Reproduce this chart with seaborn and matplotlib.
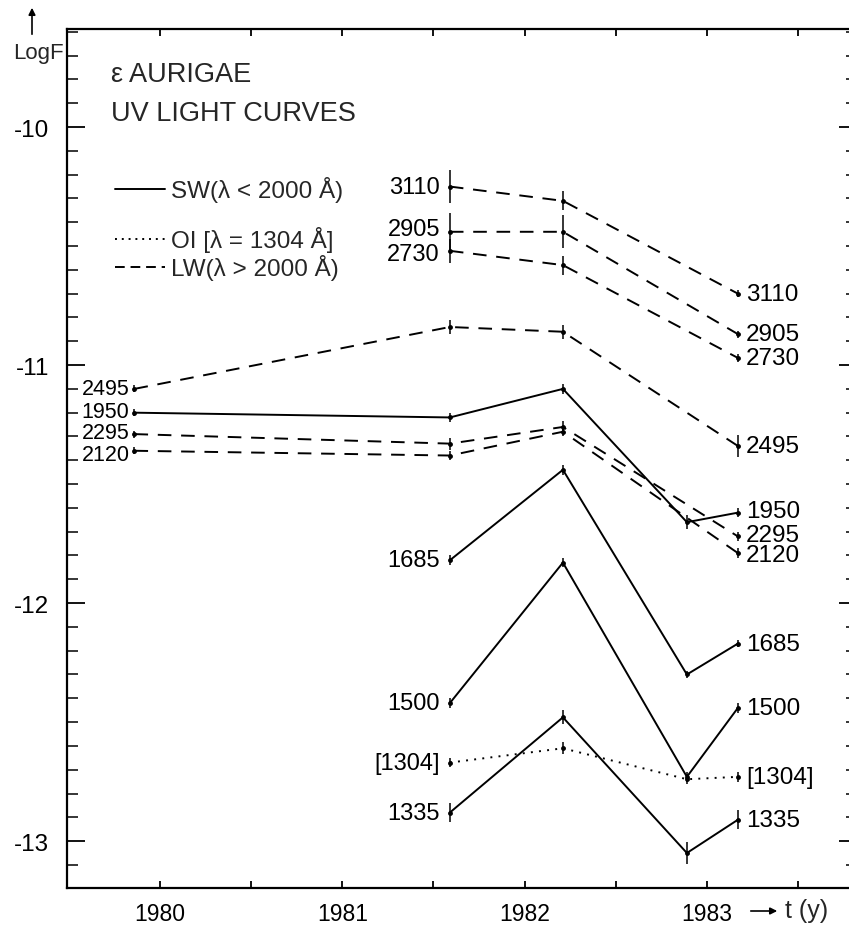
import numpy as np
import pandas as pd
import matplotlib
matplotlib.use("Agg")
import matplotlib.pyplot as plt
import seaborn as sns
from matplotlib.lines import Line2D

# ---------------- data ----------------
t_3110 = [1981.59, 1982.21, 1983.17]
f_3110 = [-10.25, -10.31, -10.70]
e_3110 = [0.07, 0.04, 0.015]

t_2905 = [1981.59, 1982.21, 1983.17]
f_2905 = [-10.44, -10.44, -10.87]
e_2905 = [0.08, 0.07, 0.015]

t_2730 = [1981.59, 1982.21, 1983.17]
f_2730 = [-10.52, -10.58, -10.97]
e_2730 = [0.05, 0.04, 0.015]

t_2495 = [1979.86, 1981.59, 1982.21, 1983.17]
f_2495 = [-11.10, -10.84, -10.86, -11.34]
e_2495 = [0.015, 0.03, 0.03, 0.045]

t_2295 = [1979.86, 1981.59, 1982.21, 1983.17]
f_2295 = [-11.29, -11.33, -11.26, -11.72]
e_2295 = [0.015, 0.025, 0.025, 0.02]

t_2120 = [1979.86, 1981.59, 1982.21, 1983.17]
f_2120 = [-11.36, -11.38, -11.28, -11.79]
e_2120 = [0.015, 0.02, 0.02, 0.02]

t_1950 = [1979.86, 1981.59, 1982.21, 1982.89, 1983.17]
f_1950 = [-11.20, -11.22, -11.10, -11.66, -11.62]
e_1950 = [0.015, 0.02, 0.02, 0.03, 0.02]

t_1685 = [1981.59, 1982.21, 1982.89, 1983.17]
f_1685 = [-11.82, -11.44, -12.30, -12.17]
e_1685 = [0.02, 0.02, 0.015, 0.015]

t_1500 = [1981.59, 1982.21, 1982.89, 1983.17]
f_1500 = [-12.42, -11.83, -12.73, -12.44]
e_1500 = [0.02, 0.02, 0.02, 0.02]

t_1304 = [1981.59, 1982.21, 1982.89, 1983.17]
f_1304 = [-12.67, -12.61, -12.74, -12.73]
e_1304 = [0.02, 0.025, 0.02, 0.02]

t_1335 = [1981.59, 1982.21, 1982.89, 1983.17]
f_1335 = [-12.88, -12.48, -13.05, -12.91]
e_1335 = [0.04, 0.03, 0.045, 0.04]

series_names = ["3110", "2905", "2730", "2495", "2295", "2120",
                "1950", "1685", "1500", "1304", "1335"]
series_kind = ["LW", "LW", "LW", "LW", "LW", "LW",
               "SW", "SW", "SW", "OI", "SW"]
series_t = [t_3110, t_2905, t_2730, t_2495, t_2295, t_2120,
            t_1950, t_1685, t_1500, t_1304, t_1335]
series_f = [f_3110, f_2905, f_2730, f_2495, f_2295, f_2120,
            f_1950, f_1685, f_1500, f_1304, f_1335]
series_e = [e_3110, e_2905, e_2730, e_2495, e_2295, e_2120,
            e_1950, e_1685, e_1500, e_1304, e_1335]

x_ticks = [1980, 1981, 1982, 1983]
y_ticks = [-10, -11, -12, -13]
y_ticklabels = ["-10", "-11", "-12", "-13"]

rows = []
for name, kind, ts, fs, es in zip(series_names, series_kind, series_t, series_f, series_e):
    for i, (t, f, e) in enumerate(zip(ts, fs, es)):
        rows.append(dict(series=name, kind=kind, year=t, logF=f, err=e, order=i))
df = pd.DataFrame(rows)

# ---------------- style ----------------
sns.set_theme(style="white")
plt.rcParams["font.family"] = ["Liberation Sans", "DejaVu Sans"]
plt.rcParams["axes.unicode_minus"] = False

W, H = 849, 928
fig = plt.figure(figsize=(W / 100, H / 100), dpi=100)
L, R, T, B = 67, 857, 30, 889
ax = fig.add_axes([L / W, 1 - B / H, (R - L) / W, (B - T) / H])
ax.set_xlim(1979.49, 1983.823)
ax.set_ylim(-13.197, -9.588)

ls_map = {"SW": "-", "LW": (0, (7, 5)), "OI": (0, (1, 3.2))}

for name in series_names:
    sub = df[df.series == name].sort_values("order")
    kind = sub.kind.iloc[0]
    sns.lineplot(data=sub, x="year", y="logF", ax=ax, color="black",
                 linewidth=1.4, estimator=None, sort=False, linestyle=ls_map[kind])
    ax.errorbar(sub.year, sub.logF, yerr=sub.err, fmt="o", ms=3.5, mew=0,
                color="black", ecolor="black", elinewidth=1.1, capsize=3,
                capthick=1.1)

# series labels
lab_fs = 17.5
nudge_left = {"2295": 1.5, "2120": -2.5, "1950": 1.0, "2905": 2.0, "2730": -2.0}
nudge_right = {"2295": 1.0, "2120": -1.5, "1950": 1.0}
for name, ts, fs in zip(series_names, series_t, series_f):
    txt = "[" + name + "]" if name == "1304" else name
    first_is_early = ts[0] < 1980.5
    off_left = -5 if first_is_early else -10
    ax.annotate(txt, (ts[0], fs[0]), xytext=(off_left * 0.72, nudge_left.get(name, 0)),
                textcoords="offset points", ha="right", va="center",
                fontsize=15.5 if first_is_early else 17, color="black")
    ax.annotate(txt, (ts[-1], fs[-1]), xytext=(8 * 0.72, nudge_right.get(name, 0)),
                textcoords="offset points", ha="left", va="center",
                fontsize=lab_fs, color="black")

# axes styling
for s in ax.spines.values():
    s.set_linewidth(1.6)
    s.set_color("black")
ax.set_xticks(x_ticks)
ax.set_xticklabels([str(v) for v in x_ticks])
ax.set_xticks([1980.5, 1981.5, 1982.5, 1983.5], minor=True)
ax.set_yticks(y_ticks)
ax.set_yticklabels(y_ticklabels)
ax.set_yticks(np.arange(-13.1, -9.59, 0.1), minor=True)
ax.tick_params(axis="x", which="both", direction="in", length=5, width=1.3,
               top=True, bottom=True, labelsize=16.5, pad=10, colors="black")
ax.tick_params(axis="y", which="major", direction="in", length=13, width=1.3,
               left=True, right=True, labelsize=17.5, pad=13, colors="black")
ax.tick_params(axis="y", which="minor", direction="in", length=8, width=1.3,
               left=True, right=True)
ax.set_xlabel("")
ax.set_ylabel("")
ax.grid(False)

def fx(px):
    return px / W

def fy(py):
    return 1 - py / H

# titles
fig.text(fx(111), fy(75), "ε AURIGAE", fontsize=19.5, ha="left", va="center")
fig.text(fx(111), fy(114), "UV LIGHT CURVES", fontsize=19.5, ha="left", va="center")

# legend keys
leg_rows = [("SW(λ < 2000 Å)", "-", 190), ("OI [λ = 1304 Å]", (0, (1, 2.5)), 240),
            ("LW(λ > 2000 Å)", (0, (5, 3)), 268)]
for txt, ls, py in leg_rows:
    fig.add_artist(Line2D([fx(115), fx(165)], [fy(py), fy(py)], color="black",
                          linewidth=1.4, linestyle=ls))
    fig.text(fx(171), fy(py), txt, fontsize=17.5, ha="left", va="center")

# y axis label with arrow
fig.text(fx(38), fy(53), "LogF", fontsize=16, ha="center", va="center")
fig.add_artist(matplotlib.patches.FancyArrowPatch(
    (fx(32), fy(38)), (fx(32), fy(6)), transform=fig.transFigure,
    arrowstyle="-|>", mutation_scale=10, color="black", linewidth=1.2))

# x axis label with arrow
fig.add_artist(matplotlib.patches.FancyArrowPatch(
    (fx(748), fy(912)), (fx(780), fy(912)), transform=fig.transFigure,
    arrowstyle="-|>", mutation_scale=10, color="black", linewidth=1.2))
fig.text(fx(785), fy(911), "t (y)", fontsize=18, ha="left", va="center")

fig.savefig("out.png", dpi=100)
